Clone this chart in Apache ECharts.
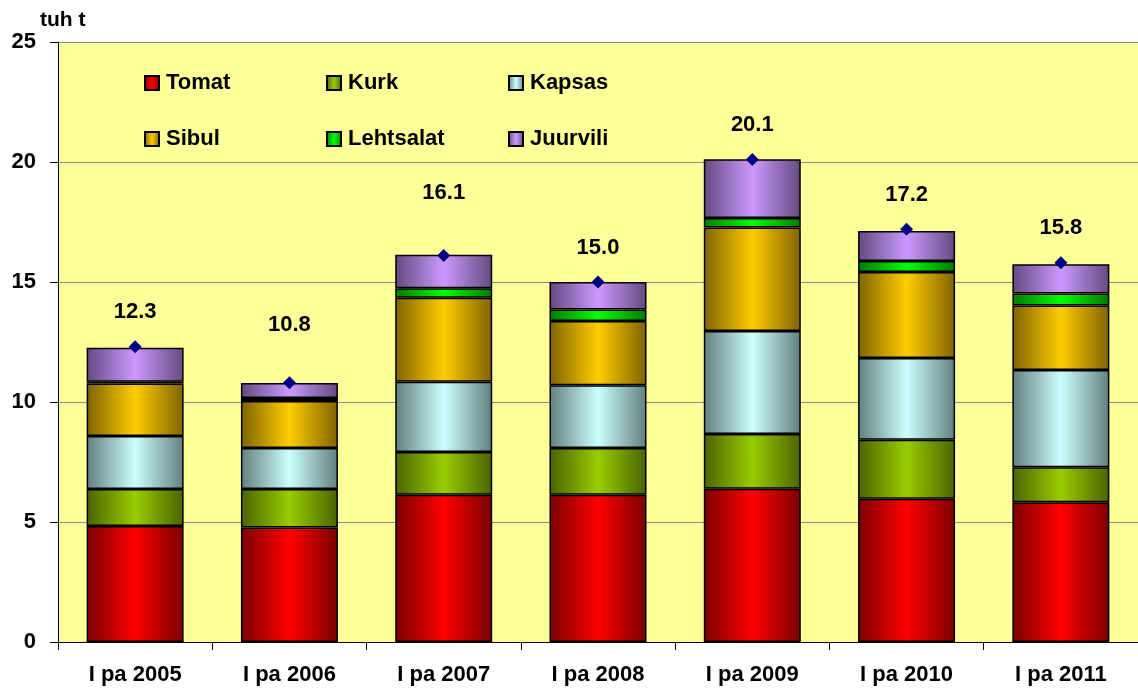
<!DOCTYPE html>
<html>
<head>
<meta charset="utf-8">
<script src="https://cdn.jsdelivr.net/npm/echarts@6/dist/echarts.min.js"></script>
<style>
html,body{margin:0;padding:0;background:#fff;}
#chart{width:1138px;height:688px;}
</style>
</head>
<body>
<div id="chart"></div>
<script>
var categories = ['I pa 2005','I pa 2006','I pa 2007','I pa 2008','I pa 2009','I pa 2010','I pa 2011'];
var tomat     = [4.83, 4.77, 6.14, 6.14, 6.39, 5.97, 5.82];
var kurk      = [1.54, 1.60, 1.78, 1.94, 2.28, 2.46, 1.46];
var kapsas    = [2.21, 1.71, 2.92, 2.62, 4.29, 3.40, 4.05];
var sibul     = [2.19, 1.96, 3.50, 2.68, 4.31, 3.59, 2.69];
var lehtsalat = [0.07, 0.13, 0.40, 0.47, 0.40, 0.46, 0.50];
var juurvili  = [1.42, 0.62, 1.40, 1.15, 2.44, 1.24, 1.22];
var totals    = [12.3, 10.8, 16.1, 15.0, 20.1, 17.2, 15.8];
var yTicks    = [0, 5, 10, 15, 20, 25];

// label distances (style only): some labels sit higher in the original
var labelDistances = [17, 40, 45, 17, 17, 17, 17];

function grad(dark, light) {
  return new echarts.graphic.LinearGradient(0, 0, 1, 0, [
    {offset: 0, color: dark},
    {offset: 0.5, color: light},
    {offset: 1, color: dark}
  ]);
}

var font = 'Liberation Sans, Arial, sans-serif';

function barSeries(name, data, dark, light) {
  return {
    name: name,
    type: 'bar',
    stack: 'total',
    barWidth: 97,
    data: data,
    itemStyle: {
      color: grad(dark, light),
      borderColor: '#000',
      borderWidth: 1.5
    },
    emphasis: {disabled: true}
  };
}

var legendText = {fontFamily: font, fontWeight: 'bold', fontSize: 22, lineHeight: 20, color: '#000', padding: [0, 0, 0, 2]};
function legendCol(left, items) {
  return {
    data: items,
    orient: 'vertical',
    left: left,
    top: 72,
    itemWidth: 14,
    itemHeight: 14,
    itemGap: 34,
    icon: 'rect',
    selectedMode: false,
    textStyle: legendText,
    padding: 0
  };
}

var totalData = totals.map(function (v, i) {
  return {value: v, label: {distance: labelDistances[i]}};
});

var chart = echarts.init(document.getElementById('chart'));
chart.setOption({
  animation: false,
  backgroundColor: '#ffffff',
  grid: {left: 58, right: 0, top: 42, bottom: 46, show: true, backgroundColor: '#FFFF99', borderWidth: 0},
  legend: [
    legendCol(144, ['Tomat', 'Sibul']),
    legendCol(326, ['Kurk', 'Lehtsalat']),
    legendCol(508, ['Kapsas', 'Juurvili'])
  ],
  graphic: [{
    type: 'text', left: 40, top: 10,
    style: {text: 'tuh t', fontFamily: font, fontWeight: 'bold', fontSize: 21, fill: '#000'}
  }],
  xAxis: {
    type: 'category',
    data: categories,
    axisLine: {lineStyle: {color: '#000', width: 1}},
    axisTick: {show: true, alignWithLabel: false, length: 8, lineStyle: {color: '#000'}},
    axisLabel: {fontFamily: font, fontWeight: 'bold', fontSize: 22, color: '#000', margin: 22}
  },
  yAxis: {
    type: 'value',
    min: yTicks[0],
    max: yTicks[yTicks.length - 1],
    interval: 5,
    axisLine: {show: true, lineStyle: {color: '#000', width: 1}},
    axisTick: {show: true, length: 8, lineStyle: {color: '#000'}},
    axisLabel: {fontFamily: font, fontWeight: 'bold', fontSize: 22, color: '#000', margin: 22},
    splitLine: {show: true, lineStyle: {color: '#8c8c8c', width: 1}}
  },
  series: [
    barSeries('Tomat', tomat, '#7a0000', '#ff0000'),
    barSeries('Kurk', kurk, '#4a6300', '#99cc00'),
    barSeries('Kapsas', kapsas, '#627f7f', '#ccffff'),
    barSeries('Sibul', sibul, '#7f6300', '#ffcc00'),
    barSeries('Lehtsalat', lehtsalat, '#007a00', '#00ff00'),
    barSeries('Juurvili', juurvili, '#634a7f', '#cc99ff'),
    {
      name: 'Kokku',
      type: 'line',
      data: totalData,
      symbol: 'diamond',
      symbolSize: 13,
      lineStyle: {width: 0, opacity: 0},
      itemStyle: {color: '#000080'},
      label: {
        show: true, position: 'top', distance: 17,
        fontFamily: font, fontWeight: 'bold', fontSize: 22, color: '#000',
        formatter: function (p) { return Number(p.value).toFixed(1); }
      },
      z: 10,
      emphasis: {disabled: true}
    }
  ]
});
</script>
</body>
</html>
